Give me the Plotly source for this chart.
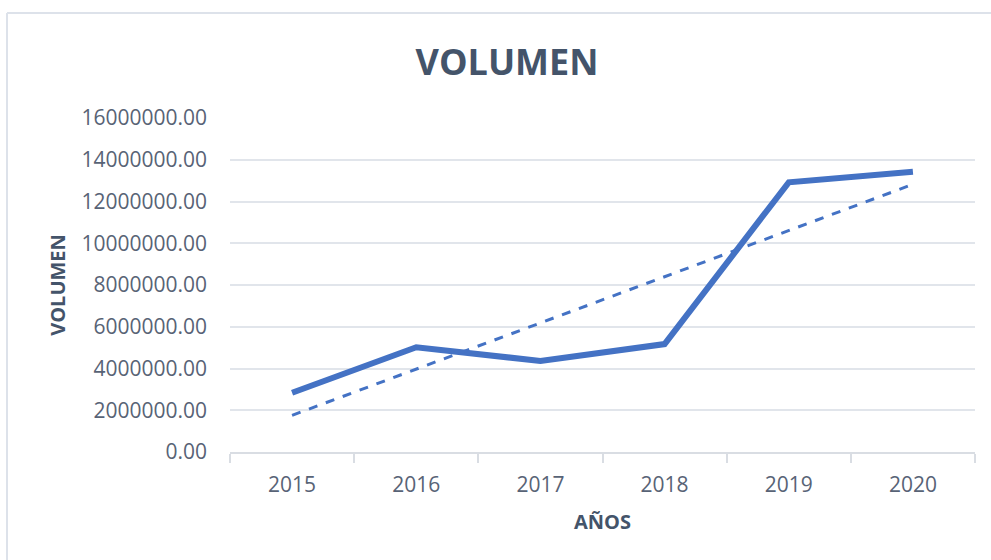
import numpy as np
import plotly.graph_objects as go

years = ["2015", "2016", "2017", "2018", "2019", "2020"]
volumen = [2840000, 5020000, 4360000, 5170000, 12920000, 13430000]
y_ticks = [0, 2000000, 4000000, 6000000, 8000000, 10000000, 12000000, 14000000, 16000000]

# linear trendline (least squares) as in Excel
xi = np.arange(len(years))
slope, intercept = np.polyfit(xi, volumen, 1)
trend = list(slope * xi + intercept)

W, H = 991, 560
L, R, T, B = 230, 16, 118, 108

fig = go.Figure()
fig.add_trace(go.Scatter(x=years, y=volumen, mode="lines",
                         line=dict(color="#4472C4", width=6), name="VOLUMEN"))
fig.add_trace(go.Scatter(x=years, y=trend, mode="lines",
                         line=dict(color="#4472C4", width=3, dash="dash"), name="Lineal"))

pw, ph = W - L - R, H - T - B
def px(x):
    return (x - L) / pw
def py(y):
    return (H - B - y) / ph

border = "#DDE2EA"
shapes = [
    dict(type="line", xref="paper", yref="paper", x0=px(7), x1=px(W + 5), y0=py(13), y1=py(13),
         line=dict(color=border, width=2)),
    dict(type="line", xref="paper", yref="paper", x0=px(7), x1=px(7), y0=py(13), y1=py(H + 5),
         line=dict(color=border, width=2)),
]

tick_color = "#586376"
fig.update_layout(
    width=W, height=H,
    margin=dict(l=L, r=R, t=T, b=B),
    paper_bgcolor="white", plot_bgcolor="white",
    showlegend=False,
    font=dict(family="Open Sans", color=tick_color),
    title=dict(text="<b>VOLUMEN</b>", x=507 / W, xref="container", xanchor="center",
               y=1 - 62 / H, yref="container", yanchor="middle",
               font=dict(family="Open Sans", size=36, color="#44546A")),
    shapes=shapes,
)
fig.update_xaxes(
    type="category", range=[-0.5, len(years) - 0.5],
    tickson="boundaries", ticks="outside", ticklen=9, tickwidth=2,
    tickcolor="#D9DDE3", showline=True, linecolor="#D9DDE3", linewidth=2,
    showgrid=False, tickfont=dict(size=21, color=tick_color), ticklabelstandoff=13,
    title=dict(text="<b>AÑOS</b>", font=dict(size=20, color="#44546A"), standoff=18),
    fixedrange=True,
)
fig.update_yaxes(
    range=[0, 16000000], tickvals=y_ticks, tickformat=".2f",
    showgrid=True, gridcolor="#E1E5EB", gridwidth=2, zeroline=False, showline=False,
    tickfont=dict(size=21, color=tick_color), ticklabelstandoff=22,
    title=dict(text="<b>VOLUMEN</b>", font=dict(size=20, color="#44546A"), standoff=10),
    fixedrange=True,
)

fig.write_html("out.html", config={"displayModeBar": False},
               post_script="document.body.style.margin='0px';")
